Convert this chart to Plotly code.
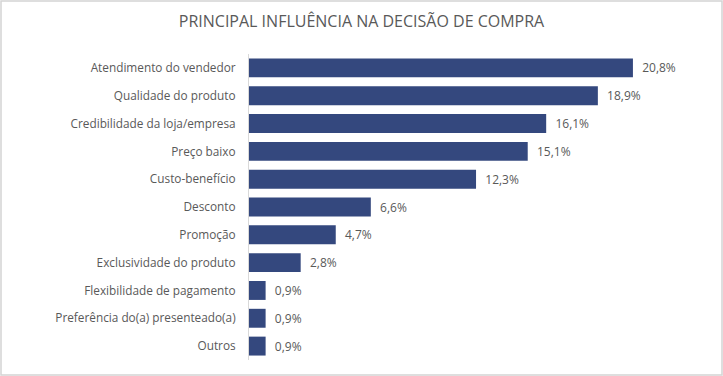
import plotly.graph_objects as go

categories = ["Atendimento do vendedor", "Qualidade do produto", "Credibilidade da loja/empresa",
              "Preço baixo", "Custo-benefício", "Desconto", "Promoção",
              "Exclusividade do produto", "Flexibilidade de pagamento",
              "Preferência do(a) presenteado(a)", "Outros"]
values = [20.8, 18.9, 16.1, 15.1, 12.3, 6.6, 4.7, 2.8, 0.9, 0.9, 0.9]
labels = ["  " + f"{v:.1f}%".replace(".", ",") for v in values]

W, H = 723, 376
L, R, T, B = 249, 31, 54, 16
pw, ph = W - L - R, H - T - B

fig = go.Figure(go.Bar(
    x=values, y=categories, orientation="h",
    marker=dict(color="#34487E", line=dict(width=0)),
    text=labels, textposition="outside", cliponaxis=False,
    textfont=dict(size=12, color="#595959"),
))
fig.update_layout(
    width=W, height=H, margin=dict(l=L, r=R, t=T, b=B, autoexpand=False),
    paper_bgcolor="white", plot_bgcolor="white",
    font=dict(family="Open Sans", size=12, color="#595959"),
    title=dict(text="PRINCIPAL INFLUÊNCIA NA DECISÃO DE COMPRA", x=0.5, xref="container",
               xanchor="center", y=1 - 21 / H, yref="container", yanchor="middle",
               font=dict(size=16, color="#595959"), automargin=False),
    bargap=0.32, showlegend=False,
    xaxis=dict(range=[0, 24], visible=False, automargin=False),
    yaxis=dict(autorange="reversed", showline=True, linecolor="#D9D9D9", linewidth=1,
               ticks="", ticklabelstandoff=10, showgrid=False, automargin=False,
               tickfont=dict(size=11.8, color="#595959")),
)
fig.add_shape(type="rect", xref="paper", yref="paper",
              x0=-(L - 1) / pw, x1=1 + (R - 1) / pw,
              y0=-(B - 1) / ph, y1=1 + (T - 1) / ph,
              line=dict(color="#D4D4D4", width=1.5), fillcolor="rgba(0,0,0,0)", layer="above")
fig.write_html("out.html", post_script="document.body.style.margin='0';",
               config={"displayModeBar": False})
